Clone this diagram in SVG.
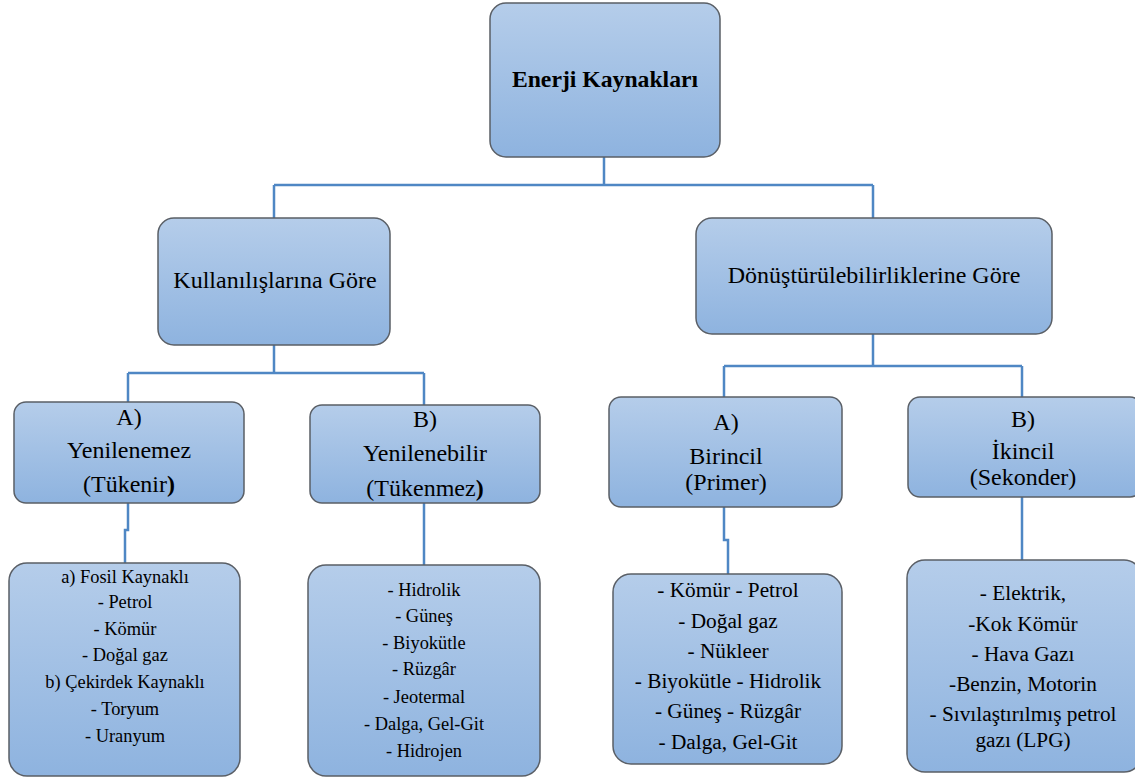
<svg xmlns="http://www.w3.org/2000/svg" width="1135" height="778" viewBox="0 0 1135 778">
<defs>
<linearGradient id="g" x1="0" y1="0" x2="0" y2="1">
<stop offset="0" stop-color="#b5cdea"/>
<stop offset="1" stop-color="#8eb3df"/>
</linearGradient>
</defs>
<style>
.box{fill:url(#g);stroke:#5a5f66;stroke-width:1.5}
.t{fill:#000;text-anchor:middle}
.l1{font-size:24px}
.l2{font-size:24px}
.l3a{font-size:18.4px}
.l3b{font-size:21.3px}
.c{fill:none;stroke:#4f87c4;stroke-width:2.5}
</style>
<rect width="1135" height="778" fill="#fff"/>
<g id="connectors">
<path class="c" d="M604 157V185M274 185H873M274 185V218M873 185V218"/>
<path class="c" d="M274 345V373M128 373H424M128 373V402M424 373V405"/>
<path class="c" d="M873 334V366M724 366H1022M724 366V397M1022 366V397"/>
<path class="c" d="M128 503V530H125V563"/>
<path class="c" d="M424 503V565"/>
<path class="c" d="M724 507V540H728V574"/>
<path class="c" d="M1022 497V560"/>
</g>
<g font-family="Liberation Serif, DejaVu Serif, serif">
<g id="root">
<rect class="box" x="490" y="3" width="230" height="154" rx="16"/>
<text class="t" x="605" y="87" font-size="23.7" font-weight="bold">Enerji Kaynakları</text>
</g>
<g id="kullanilis">
<rect class="box" x="158" y="218" width="232" height="127" rx="16"/>
<text class="t l1" x="275" y="288">Kullanılışlarına Göre</text>
</g>
<g id="donusturulebilirlik">
<rect class="box" x="696" y="218" width="356" height="116" rx="16"/>
<text class="t l1" x="874" y="283">Dönüştürülebilirliklerine Göre</text>
</g>
<g id="yenilenemez">
<rect class="box" x="14" y="402" width="230" height="101" rx="12"/>
<text class="t l2" x="129" y="425">A)</text>
<text class="t l2" x="129" y="458">Yenilenemez</text>
<text class="t l2" x="129" y="492">(Tükenir<tspan font-weight="bold">)</tspan></text>
</g>
<g id="yenilenebilir">
<rect class="box" x="310" y="405" width="230" height="98" rx="12"/>
<text class="t l2" x="425" y="427">B)</text>
<text class="t l2" x="425" y="461">Yenilenebilir</text>
<text class="t l2" x="425" y="496">(Tükenmez<tspan font-weight="bold">)</tspan></text>
</g>
<g id="birincil">
<rect class="box" x="609" y="397" width="233" height="110" rx="12"/>
<text class="t l2" x="726" y="430">A)</text>
<text class="t l2" x="726" y="464">Birincil</text>
<text class="t l2" x="726" y="490">(Primer)</text>
</g>
<g id="ikincil">
<rect class="box" x="908" y="397" width="234" height="100" rx="12"/>
<text class="t l2" x="1023" y="427">B)</text>
<text class="t l2" x="1023" y="459">İkincil</text>
<text class="t l2" x="1023" y="485">(Sekonder)</text>
</g>
<g id="yenilenemez-list">
<rect class="box" x="9" y="563" width="231" height="213" rx="18"/>
<text class="t l3a" x="125" y="583">a) Fosil Kaynaklı</text>
<text class="t l3a" x="125" y="608">- Petrol</text>
<text class="t l3a" x="125" y="635">- Kömür</text>
<text class="t l3a" x="125" y="661">- Doğal gaz</text>
<text class="t l3a" x="125" y="688">b) Çekirdek Kaynaklı</text>
<text class="t l3a" x="125" y="715">- Toryum</text>
<text class="t l3a" x="125" y="742">- Uranyum</text>
</g>
<g id="yenilenebilir-list">
<rect class="box" x="308" y="565" width="232" height="211" rx="18"/>
<text class="t l3a" x="424" y="596">- Hidrolik</text>
<text class="t l3a" x="424" y="622">- Güneş</text>
<text class="t l3a" x="424" y="649">- Biyokütle</text>
<text class="t l3a" x="424" y="675">- Rüzgâr</text>
<text class="t l3a" x="424" y="703">- Jeotermal</text>
<text class="t l3a" x="424" y="730">- Dalga, Gel-Git</text>
<text class="t l3a" x="424" y="757">- Hidrojen</text>
</g>
<g id="birincil-list">
<rect class="box" x="613" y="574" width="229" height="190" rx="18"/>
<text class="t l3b" x="728" y="597">- Kömür - Petrol</text>
<text class="t l3b" x="728" y="628">- Doğal gaz</text>
<text class="t l3b" x="728" y="658">- Nükleer</text>
<text class="t l3b" x="728" y="688">- Biyokütle - Hidrolik</text>
<text class="t l3b" x="728" y="718">- Güneş - Rüzgâr</text>
<text class="t l3b" x="728" y="749">- Dalga, Gel-Git</text>
</g>
<g id="ikincil-list">
<rect class="box" x="907" y="560" width="235" height="212" rx="18"/>
<text class="t l3b" x="1023" y="600">- Elektrik,</text>
<text class="t l3b" x="1023" y="631">-Kok Kömür</text>
<text class="t l3b" x="1023" y="661">- Hava Gazı</text>
<text class="t l3b" x="1023" y="691">-Benzin, Motorin</text>
<text class="t l3b" x="1023" y="721">- Sıvılaştırılmış petrol</text>
<text class="t l3b" x="1023" y="747">gazı (LPG)</text>
</g>
</g>
</svg>
